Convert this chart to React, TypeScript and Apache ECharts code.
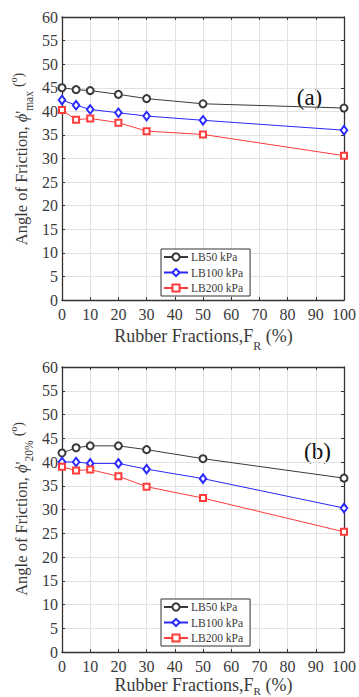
import React, { useEffect, useRef } from "react";
import * as echarts from "echarts";

// ---- data ----
const rubberFractions = [0, 5, 10, 20, 30, 50, 100];
const seriesNames = ["LB50 kPa", "LB100 kPa", "LB200 kPa"];
// (a) peak friction angle
const maxLB50 = [45.0, 44.6, 44.4, 43.6, 42.7, 41.6, 40.7];
const maxLB100 = [42.4, 41.3, 40.4, 39.7, 39.0, 38.1, 36.0];
const maxLB200 = [40.3, 38.2, 38.5, 37.6, 35.8, 35.1, 30.6];
// (b) friction angle at 20% strain
const p20LB50 = [41.9, 43.0, 43.4, 43.4, 42.6, 40.7, 36.6];
const p20LB100 = [40.0, 40.0, 39.7, 39.7, 38.5, 36.5, 30.3];
const p20LB200 = [39.0, 38.2, 38.4, 37.0, 34.8, 32.4, 25.3];
// axes
const xMin = 0, xMax = 100, xStep = 10;
const yMin = 0, yMax = 60, yStep = 5;
const panelLabels = ["(a)", "(b)"];

const FONT = "Liberation Serif";
const TXT = "#3a3a3a";
const AX = "#333333";
const GRIDC = "#e2e2e2";
const colors = ["#3a3a3a", "#2828ff", "#ff3c3c"];
const symbols = ["emptyCircle", "emptyDiamond", "emptyRect"];
const symbolSizes: any[] = [7, [6.5, 8.5], 6];

let ctx: CanvasRenderingContext2D | null = null;
function tw(text: string, size: number, italic = false) {
  if (!ctx) ctx = document.createElement("canvas").getContext("2d");
  ctx!.font = `${italic ? "italic " : ""}${size}px "${FONT}"`;
  return ctx!.measureText(text).width;
}

type Part = { text: string; size: number; dy: number; italic?: boolean };
function label(parts: Part[], x: number, y: number, rotated: boolean) {
  const widths = parts.map((p) => tw(p.text, p.size, p.italic));
  const total = widths.reduce((a, b) => a + b, 0);
  let cx = -total / 2;
  const children = parts.map((p, i) => {
    const el = {
      type: "text",
      x: cx,
      y: p.dy - 0.32 * p.size,
      style: {
        text: p.text,
        fontSize: p.size,
        fontFamily: FONT,
        fontStyle: p.italic ? "italic" : "normal",
        fill: TXT,
        textAlign: "left",
        textVerticalAlign: "middle",
        align: "left",
        verticalAlign: "middle",
      },
    };
    cx += widths[i];
    return el;
  });
  return { type: "group", x, y, rotation: rotated ? Math.PI / 2 : 0, children };
}

function yTitle(sub: string, baseX: number, centerY: number) {
  return label(
    [
      { text: "Angle of Friction, ", size: 16.5, dy: 0 },
      { text: "\u03D5", size: 16.5, dy: 0, italic: true },
      { text: "'", size: 16.5, dy: 0 },
      { text: sub, size: 11.5, dy: 6 },
      { text: " ", size: 16.5, dy: 0 },
      { text: "(", size: 14, dy: -4 },
      { text: "o", size: 9.5, dy: -10 },
      { text: ")", size: 14, dy: -4 },
    ],
    baseX,
    centerY,
    true
  );
}

function xTitle(cx: number, baseY: number, subDy: number, subSize: number) {
  return label(
    [
      { text: "Rubber Fractions,F", size: 18, dy: 0 },
      { text: "R", size: subSize, dy: subDy },
      { text: " (%)", size: 18, dy: 0 },
    ],
    cx,
    baseY,
    false
  );
}

const grids = [
  { left: 62, top: 17, width: 283, height: 283 },
  { left: 62, top: 367, width: 283, height: 285 },
];

function mainX(gi: number) {
  return {
    type: "value",
    gridIndex: gi,
    position: "bottom",
    min: xMin,
    max: xMax,
    interval: xStep,
    axisLine: { show: true, onZero: false, lineStyle: { color: AX, width: 1.3 } },
    axisTick: { show: true, inside: true, length: 3, lineStyle: { color: AX } },
    axisLabel: { show: true, margin: 6, fontSize: 16, fontFamily: FONT, color: TXT },
    splitLine: { show: true, lineStyle: { color: GRIDC, width: 1 } },
  };
}
function topX(gi: number) {
  return {
    type: "value",
    gridIndex: gi,
    position: "top",
    min: xMin,
    max: xMax,
    interval: xStep,
    axisLine: { show: true, onZero: false, lineStyle: { color: AX, width: 1.3 } },
    axisTick: { show: true, inside: true, length: 3, lineStyle: { color: AX } },
    axisLabel: { show: false },
    splitLine: { show: false },
  };
}
function mainY(gi: number) {
  return {
    type: "value",
    gridIndex: gi,
    position: "left",
    min: yMin,
    max: yMax,
    interval: yStep,
    axisLine: { show: true, onZero: false, lineStyle: { color: AX, width: 1.3 } },
    axisTick: { show: true, inside: true, length: 3, lineStyle: { color: AX } },
    axisLabel: { show: true, margin: 4, fontSize: 16, fontFamily: FONT, color: TXT },
    splitLine: { show: true, lineStyle: { color: GRIDC, width: 1 } },
  };
}
function rightY(gi: number) {
  return {
    type: "value",
    gridIndex: gi,
    position: "right",
    min: yMin,
    max: yMax,
    interval: yStep,
    axisLine: { show: true, onZero: false, lineStyle: { color: AX, width: 1.3 } },
    axisTick: { show: true, inside: true, length: 3, lineStyle: { color: AX } },
    axisLabel: { show: false },
    splitLine: { show: false },
  };
}

function mkSeries(gi: number, idx: number, ys: number[]) {
  return {
    type: "line",
    name: seriesNames[idx],
    xAxisIndex: gi * 2,
    yAxisIndex: gi * 2,
    data: rubberFractions.map((x, i) => [x, ys[i]]),
    symbol: symbols[idx],
    symbolSize: symbolSizes[idx],
    showSymbol: true,
    lineStyle: { color: colors[idx], width: 1 },
    itemStyle: { color: colors[idx], borderColor: colors[idx], borderWidth: 1 },
    z: 3 + idx,
  };
}

function legend(top: number) {
  return {
    show: true,
    data: seriesNames,
    orient: "vertical",
    left: 161,
    top,
    itemWidth: 24,
    itemHeight: 9,
    itemGap: 3.5,
    padding: [2, 7, 2, 2],
    backgroundColor: "#ffffff",
    borderColor: "#333",
    borderWidth: 1,
    borderRadius: 0,
    selectedMode: false,
    textStyle: { fontFamily: FONT, fontSize: 11.5, color: TXT, lineHeight: 12, padding: [0, 0, 0, -2] },
  };
}

export default function App() {
  const ref = useRef<HTMLDivElement>(null);
  useEffect(() => {
    const chart = echarts.init(ref.current!, null, { renderer: "svg" });
    const option: any = {
      animation: false,
      backgroundColor: "#ffffff",
      textStyle: { fontFamily: FONT },
      grid: grids.map((g) => ({ ...g, containLabel: false })),
      xAxis: [mainX(0), topX(0), mainX(1), topX(1)],
      yAxis: [mainY(0), rightY(0), mainY(1), rightY(1)],
      legend: [legend(249), legend(599)],
      series: [
        mkSeries(0, 0, maxLB50),
        mkSeries(0, 1, maxLB100),
        mkSeries(0, 2, maxLB200),
        mkSeries(1, 0, p20LB50),
        mkSeries(1, 1, p20LB100),
        mkSeries(1, 2, p20LB200),
      ],
      graphic: [
        yTitle("max", 27, 159),
        yTitle("20%", 27, 509),
        xTitle(203.5, 342, 8, 12),
        xTitle(203.5, 690.5, 4, 11),
        {
          type: "text",
          x: 309.5,
          y: 97,
          style: { text: panelLabels[0], fontSize: 23, fontFamily: FONT, fill: "#111", textAlign: "center", textVerticalAlign: "middle", align: "center", verticalAlign: "middle" },
        },
        {
          type: "text",
          x: 317.5,
          y: 451,
          style: { text: panelLabels[1], fontSize: 23, fontFamily: FONT, fill: "#111", textAlign: "center", textVerticalAlign: "middle", align: "center", verticalAlign: "middle" },
        },
      ],
    };
    chart.setOption(option);
    return () => chart.dispose();
  }, []);
  return (
    <div
      ref={ref}
      style={{ position: "absolute", left: 0, top: 0, width: 359, height: 697, background: "#fff" }}
    />
  );
}
